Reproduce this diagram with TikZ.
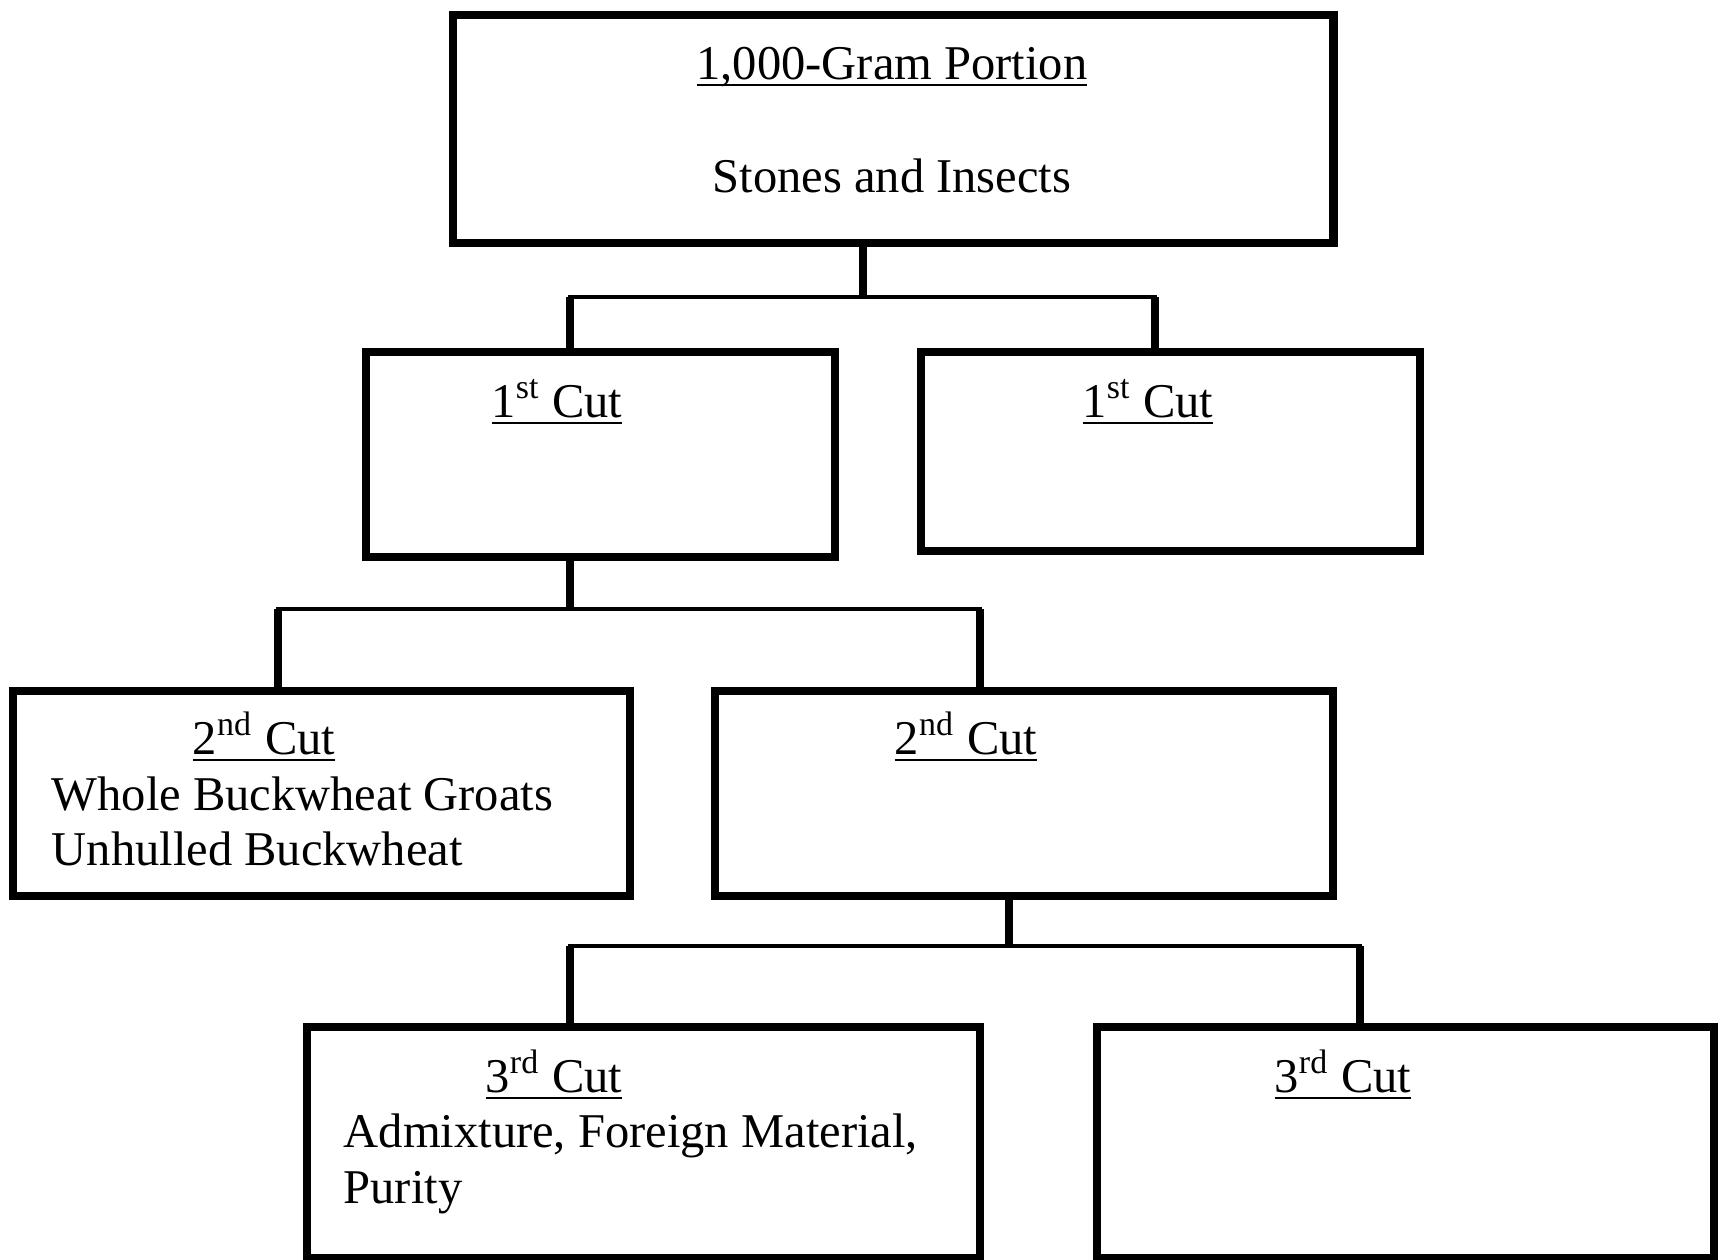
\documentclass[tikz,border=0pt]{standalone}
\usepackage{fontspec}
\setmainfont{Liberation Serif}
\newcommand{\headul}[1]{\setbox0\hbox{#1}\rlap{\rule[-2pt]{\wd0}{0.6pt}}\box0}
\tikzset{
  cutbox/.style={draw, line width=2.3pt, inner sep=0pt, outer sep=0pt, anchor=north west},
  cuthead/.style={font=\fontsize{13.8pt}{15.6pt}\selectfont, anchor=base, inner sep=0pt},
  cutitem/.style={font=\fontsize{13.8pt}{15.6pt}\selectfont, anchor=base west, inner sep=0pt},
  stub/.style={line width=2pt},
  bar/.style={line width=1.1pt, line cap=rect},
}
\begin{document}
\begin{tikzpicture}[x=0.01cm, y=-0.01cm]
  \useasboundingbox (0,0) rectangle (1723,1260);
  % boxes
  \node[cutbox, minimum width=8.80cm, minimum height=2.28cm] (portion) at (453,15) {};
  \node[cutbox, minimum width=4.69cm, minimum height=2.05cm] (cutA) at (366,352) {};
  \node[cutbox, minimum width=4.99cm, minimum height=1.99cm] (cutB) at (921,352) {};
  \node[cutbox, minimum width=6.17cm, minimum height=2.05cm] (cutAA) at (13,691) {};
  \node[cutbox, minimum width=6.18cm, minimum height=2.05cm] (cutAB) at (715,691) {};
  \node[cutbox, minimum width=6.73cm, minimum height=2.31cm] (cutABA) at (307,1027) {};
  \node[cutbox, minimum width=6.17cm, minimum height=2.31cm] (cutABB) at (1097,1027) {};
  % texts
  \node[cuthead] (portionhead) at (892,79) {\headul{1,000-Gram Portion}};
  \node[cuthead] (portiontext) at (892,192) {Stones and Insects};
  \node[cuthead] (cutAhead) at (557,417) {\headul{1\textsuperscript{st} Cut}};
  \node[cuthead] (cutBhead) at (1148,417) {\headul{1\textsuperscript{st} Cut}};
  \node[cuthead] (cutAAhead) at (264,754) {\headul{2\textsuperscript{nd} Cut}};
  \node[cutitem] (cutAAone) at (51,810) {Whole Buckwheat Groats};
  \node[cutitem] (cutAAtwo) at (51,865) {Unhulled Buckwheat};
  \node[cuthead] (cutABhead) at (966,754) {\headul{2\textsuperscript{nd} Cut}};
  \node[cuthead] (cutABAhead) at (554,1092) {\headul{3\textsuperscript{rd} Cut}};
  \node[cutitem] (cutABAone) at (343,1147) {Admixture, Foreign Material,};
  \node[cutitem] (cutABAtwo) at (343,1203) {Purity};
  \node[cuthead] (cutABBhead) at (1343,1092) {\headul{3\textsuperscript{rd} Cut}};
  % junctions
  \coordinate (split1) at (863,297);
  \coordinate (split1l) at (570,297);
  \coordinate (split1r) at (1155,297);
  \coordinate (split2) at (570,609);
  \coordinate (split2l) at (278,609);
  \coordinate (split2r) at (980,609);
  \coordinate (split3) at (1009,946);
  \coordinate (split3l) at (570,946);
  \coordinate (split3r) at (1360,946);
  % connectors
  \draw[stub] (portion.south -| split1) -- (split1);
  \draw[bar] (split1l) -- (split1r);
  \draw[stub] (split1l) -- (split1l |- cutA.north);
  \draw[stub] (split1r) -- (split1r |- cutB.north);
  \draw[stub] (cutA.south -| split2) -- (split2);
  \draw[bar] (split2l) -- (split2r);
  \draw[stub] (split2l) -- (split2l |- cutAA.north);
  \draw[stub] (split2r) -- (split2r |- cutAB.north);
  \draw[stub] (cutAB.south -| split3) -- (split3);
  \draw[bar] (split3l) -- (split3r);
  \draw[stub] (split3l) -- (split3l |- cutABA.north);
  \draw[stub] (split3r) -- (split3r |- cutABB.north);
\end{tikzpicture}
\end{document}
